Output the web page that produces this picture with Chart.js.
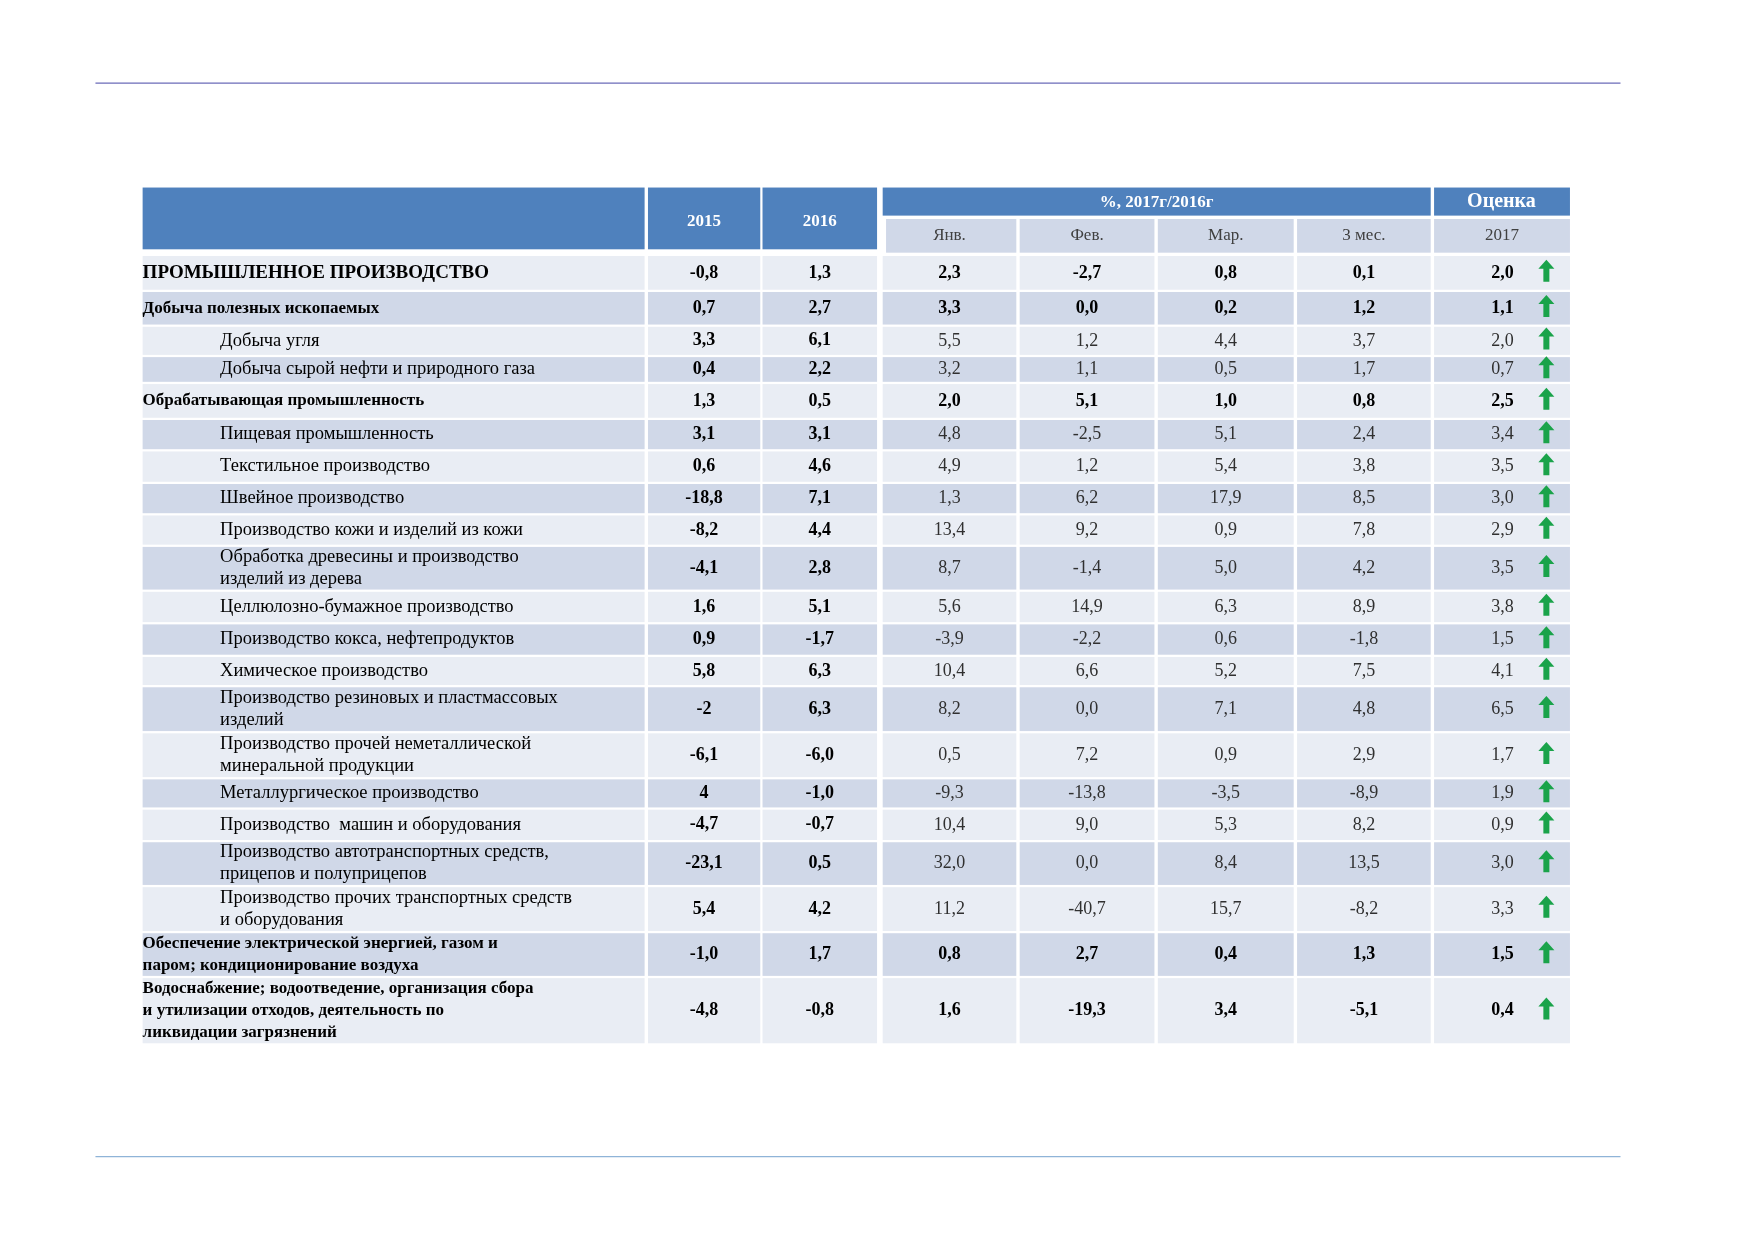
<!DOCTYPE html>
<html><head><meta charset="utf-8">
<script src="https://cdn.jsdelivr.net/npm/chart.js@4/dist/chart.umd.min.js"></script>
<style>html,body{margin:0;padding:0;background:#fff}#wrap{width:1752px;height:1239px}</style>
</head><body><div id="wrap"><canvas id="myChart"></canvas></div>
<script>
const labels = [
  ['ПРОМЫШЛЕННОЕ ПРОИЗВОДСТВО'],
  ['Добыча полезных ископаемых'],
  ['Добыча угля'],
  ['Добыча сырой нефти и природного газа'],
  ['Обрабатывающая промышленность'],
  ['Пищевая промышленность'],
  ['Текстильное производство'],
  ['Швейное производство'],
  ['Производство кожи и изделий из кожи'],
  ['Обработка древесины и производство', 'изделий из дерева'],
  ['Целлюлозно-бумажное производство'],
  ['Производство кокса, нефтепродуктов'],
  ['Химическое производство'],
  ['Производство резиновых и пластмассовых', 'изделий'],
  ['Производство прочей неметаллической', 'минеральной продукции'],
  ['Металлургическое производство'],
  ['Производство  машин и оборудования'],
  ['Производство автотранспортных средств,', 'прицепов и полуприцепов'],
  ['Производство прочих транспортных средств', 'и оборудования'],
  ['Обеспечение электрической энергией, газом и', 'паром; кондиционирование воздуха'],
  ['Водоснабжение; водоотведение, организация сбора', 'и утилизации отходов, деятельность по', 'ликвидации загрязнений']
]
const boldRows = [0, 1, 4, 19, 20]
const subRows = [2,3,5,6,7,8,9,10,11,12,13,14,15,16,17,18]
const y2015 = ['-0,8','0,7','3,3','0,4','1,3','3,1','0,6','-18,8','-8,2','-4,1','1,6','0,9','5,8','-2','-6,1','4','-4,7','-23,1','5,4','-1,0','-4,8']
const y2016 = ['1,3','2,7','6,1','2,2','0,5','3,1','4,6','7,1','4,4','2,8','5,1','-1,7','6,3','6,3','-6,0','-1,0','-0,7','0,5','4,2','1,7','-0,8']
const jan = ['2,3','3,3','5,5','3,2','2,0','4,8','4,9','1,3','13,4','8,7','5,6','-3,9','10,4','8,2','0,5','-9,3','10,4','32,0','11,2','0,8','1,6']
const feb = ['-2,7','0,0','1,2','1,1','5,1','-2,5','1,2','6,2','9,2','-1,4','14,9','-2,2','6,6','0,0','7,2','-13,8','9,0','0,0','-40,7','2,7','-19,3']
const mar = ['0,8','0,2','4,4','0,5','1,0','5,1','5,4','17,9','0,9','5,0','6,3','0,6','5,2','7,1','0,9','-3,5','5,3','8,4','15,7','0,4','3,4']
const q1 = ['0,1','1,2','3,7','1,7','0,8','2,4','3,8','8,5','7,8','4,2','8,9','-1,8','7,5','4,8','2,9','-8,9','8,2','13,5','-8,2','1,3','-5,1']
const est2017 = ['2,0','1,1','2,0','0,7','2,5','3,4','3,5','3,0','2,9','3,5','3,8','1,5','4,1','6,5','1,7','1,9','0,9','3,0','3,3','1,5','0,4']
const monthHeaders = ['Янв.', 'Фев.', 'Мар.', '3 мес.', '2017']

// layout, in units of the 1560px-wide source; scaled through the chart scales
const K = 1.123
const cols = [[127,574],[577,677],[679,781],[786,905],[908,1028],[1031,1152],[1155,1274],[1277,1398]]
const rowBounds = [[228,258],[260,289],[291,316],[318,340],[342,372],[374,400],[402,429],[431,457],[459,485],[487,525],[527,554],[556,583],[585,610],[612,651],[653,692],[694,719],[721,748],[750,788],[790,829],[831,869],[871,929]]

const tablePlugin = {
  id: 'table',
  afterDraw(chart) {
    const ctx = chart.ctx
    const xs = chart.scales.x, ys = chart.scales.y
    const X = v => xs.getPixelForValue(v * K)
    const Y = v => ys.getPixelForValue(v * K)
    const rect = (x0, y0, x1, y1, c) => { ctx.fillStyle = c; ctx.fillRect(X(x0), Y(y0), X(x1) - X(x0), Y(y1) - Y(y0)) }
    const font = (b, s) => (b ? 'bold ' : '') + s + 'px "Liberation Serif", "Times New Roman", serif'
    ctx.save()
    // rules
    ctx.lineWidth = 1.3
    ctx.strokeStyle = '#6b6bb8'
    ctx.beginPath(); ctx.moveTo(X(85), Y(74)); ctx.lineTo(X(1443), Y(74)); ctx.stroke()
    ctx.strokeStyle = '#8fb4d8'
    ctx.beginPath(); ctx.moveTo(X(85), Y(1030)); ctx.lineTo(X(1443), Y(1030)); ctx.stroke()
    // header
    const blue = '#4f81bd', dark = '#d0d8e8', light = '#e9edf4'
    rect(127, 167, 574, 222, blue)
    rect(577, 167, 677, 222, blue)
    rect(679, 167, 781, 222, blue)
    rect(786, 167, 1274, 192, blue)
    rect(1277, 167, 1398, 192, blue)
    for (let i = 3; i < 8; i++) rect(cols[i][0] + (i === 3 ? 3 : 0), 195, cols[i][1], 225, dark)
    ctx.textBaseline = 'middle'
    ctx.textAlign = 'center'
    ctx.fillStyle = '#fff'
    ctx.font = font(true, 17)
    ctx.fillText('2015', X(627), Y(197))
    ctx.fillText('2016', X(730), Y(197))
    ctx.fillText('%, 2017г/2016г', X(1030), Y(180))
    ctx.font = font(true, 20)
    ctx.fillText('Оценка', X(1337), Y(180))
    ctx.font = font(false, 17)
    ctx.fillStyle = '#404040'
    monthHeaders.forEach((h, i) => ctx.fillText(h, X((cols[i + 3][0] + cols[i + 3][1]) / 2), Y(210)))
    // body
    const series = [y2015, y2016, jan, feb, mar, q1, est2017]
    labels.forEach((lab, r) => {
      const [t, b] = rowBounds[r]
      const bg = r % 2 === 0 ? light : dark
      cols.forEach(c => rect(c[0], t, c[1], b, bg))
      const bold = boldRows.includes(r)
      const mid = (t + b) / 2
      const lh = 19.5
      ctx.fillStyle = '#000'
      ctx.textAlign = 'left'
      ctx.font = font(bold, r === 0 ? 19 : (bold ? 17 : 18.5))
      const indent = subRows.includes(r) ? 196 : 127
      lab.forEach((line, k) => ctx.fillText(line, X(indent), Y(mid + (k - (lab.length - 1) / 2) * lh) ))
      ctx.textAlign = 'center'
      series.forEach((s, i) => {
        const c = cols[i + 1]
        const b2 = i < 2 || bold
        ctx.font = font(b2, 18)
        ctx.fillStyle = b2 ? '#000' : '#303030'
        const cx = i === 6 ? 1338 : (c[0] + c[1]) / 2
        ctx.fillText(s[r], X(cx), Y(mid))
      })
      // green arrow
      const ax = X(1377), ay = Y(mid - 2)
      ctx.fillStyle = '#1aa34a'
      ctx.beginPath()
      ctx.moveTo(ax, ay - 11)
      ctx.lineTo(ax + 8, ay - 2)
      ctx.lineTo(ax + 3, ay - 2)
      ctx.lineTo(ax + 3, ay + 11)
      ctx.lineTo(ax - 3, ay + 11)
      ctx.lineTo(ax - 3, ay - 2)
      ctx.lineTo(ax - 8, ay - 2)
      ctx.closePath()
      ctx.fill()
    })
    ctx.restore()
  }
}

const chart = new Chart(document.getElementById('myChart'), {
  type: 'scatter',
  data: { datasets: [{ data: [] }] },
  options: {
    responsive: true,
    maintainAspectRatio: false,
    animation: false,
    layout: { padding: 0 },
    plugins: { legend: { display: false }, tooltip: { enabled: false } },
    scales: {
      x: { type: 'linear', min: 0, max: 1752, display: false },
      y: { type: 'linear', min: 0, max: 1239, reverse: true, display: false }
    }
  },
  plugins: [tablePlugin]
})
</script>
</body></html>
